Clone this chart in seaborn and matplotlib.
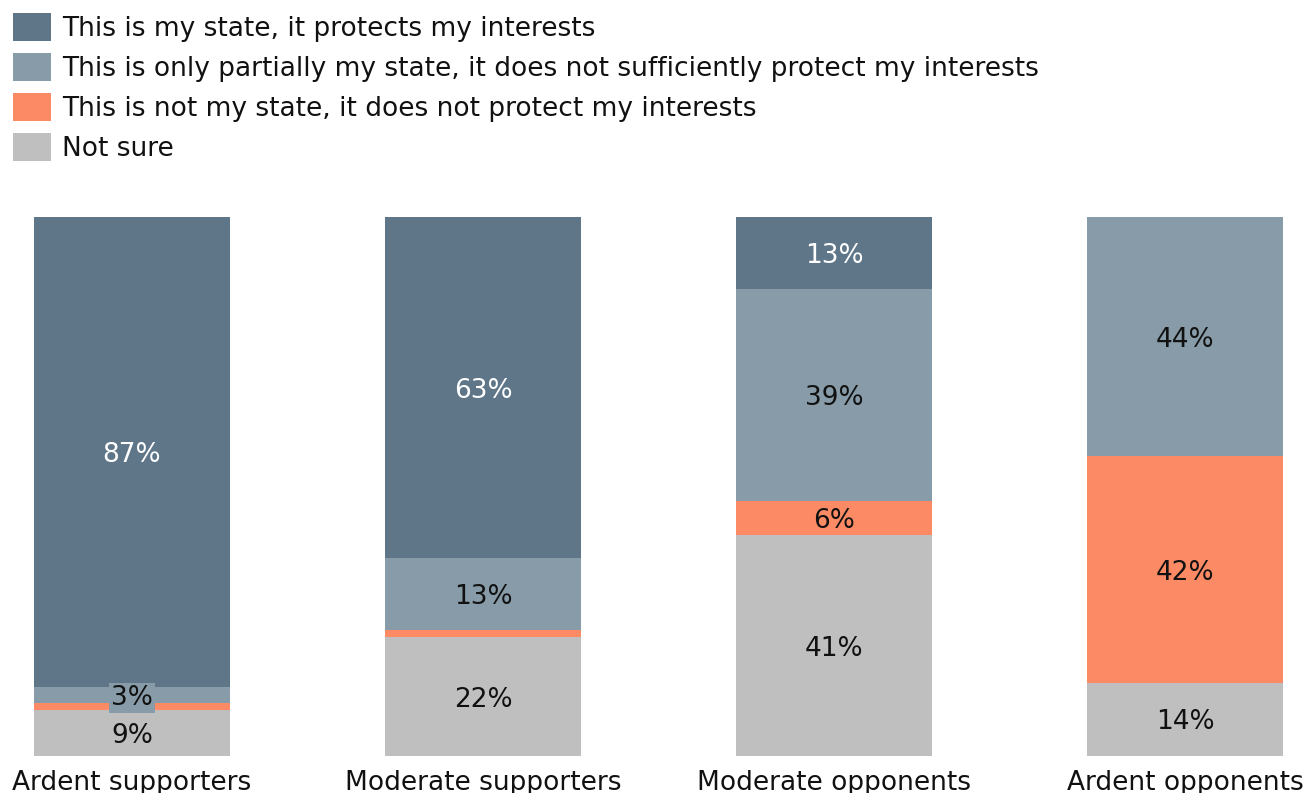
import numpy as np
import pandas as pd
import matplotlib
matplotlib.use("Agg")
import matplotlib.pyplot as plt
import matplotlib.transforms as mtransforms
from matplotlib.patches import Patch
import seaborn as sns

# Survey groups and share of answers (percent) per group
groups = ["Ardent supporters", "Moderate supporters", "Moderate opponents", "Ardent opponents"]
answers = [
    "This is my state, it protects my interests",
    "This is only partially my state, it does not sufficiently protect my interests",
    "This is not my state, it does not protect my interests",
    "Not sure",
]
my_state = [87.2, 63.3, 13.4, 0.0]
partially = [2.9, 13.4, 39.3, 44.4]
not_my_state = [1.3, 1.3, 6.3, 42.0]
not_sure = [8.6, 22.0, 41.0, 13.6]

colors = ["#5f7689", "#879ca8", "#fc8b65", "#bfbfbf"]
label_colors = ["white", "#111111", "#111111", "#111111"]
min_label = 2.0  # segments smaller than this get no label

sns.set_theme(style="white")
plt.rcParams["font.family"] = ["DejaVu Sans"]
plt.rcParams["text.color"] = "#111111"

series = [my_state, partially, not_my_state, not_sure]
df = pd.DataFrame({"group": groups})
# stack from the bottom: not sure, not my state, partially, my state
stack_order = [3, 2, 1, 0]
tops = np.zeros(len(groups))
bottoms = {}
for i in stack_order:
    bottoms[i] = tops.copy()
    tops = tops + np.array(series[i])
    df[f"top{i}"] = tops.copy()

fig = plt.figure(figsize=(13.07, 7.93), dpi=100)
ax = fig.add_axes([0, 37 / 793, 1, 539 / 793])

# draw the cumulative totals from the tallest down so each layer shows its own segment
for i in reversed(stack_order):
    sns.barplot(data=df, x="group", y=f"top{i}", color=colors[i], saturation=1,
                width=0.558, order=groups, ax=ax, linewidth=0)

fs = 19
label_tr = mtransforms.offset_copy(ax.transData, fig=fig, x=0, y=-3, units="dots")
for i in range(4):
    vals = np.array(series[i])
    for j, v in enumerate(vals):
        if v < min_label:
            continue
        yc = bottoms[i][j] + v / 2
        kw = {}
        if v < 5:
            kw["bbox"] = dict(facecolor=colors[i], edgecolor="none", pad=1.5)
        ax.text(j, yc, f"{round(v)}%", ha="center", va="center",
                color=label_colors[i], fontsize=fs, transform=label_tr, **kw)

ax.set_ylim(0, 100)
px0, spacing = 132, 351
ax.set_xlim(-px0 / spacing, (1307 - px0) / spacing)
ax.set_xlabel("")
ax.set_ylabel("")
ax.set_yticks([])
ax.tick_params(axis="x", length=0, labelsize=fs, pad=10, colors="#111111")
for s in ax.spines.values():
    s.set_visible(False)

handles = [Patch(facecolor=c, edgecolor="none") for c in colors]
fig.legend(handles, answers, loc="upper left", bbox_to_anchor=(13 / 1307, 1 - 13 / 793),
           frameon=False, fontsize=fs, handlelength=1.44, handleheight=1.25,
           handletextpad=0.42, labelspacing=0.42, borderpad=0, borderaxespad=0)

fig.savefig("out.png", dpi=100)
